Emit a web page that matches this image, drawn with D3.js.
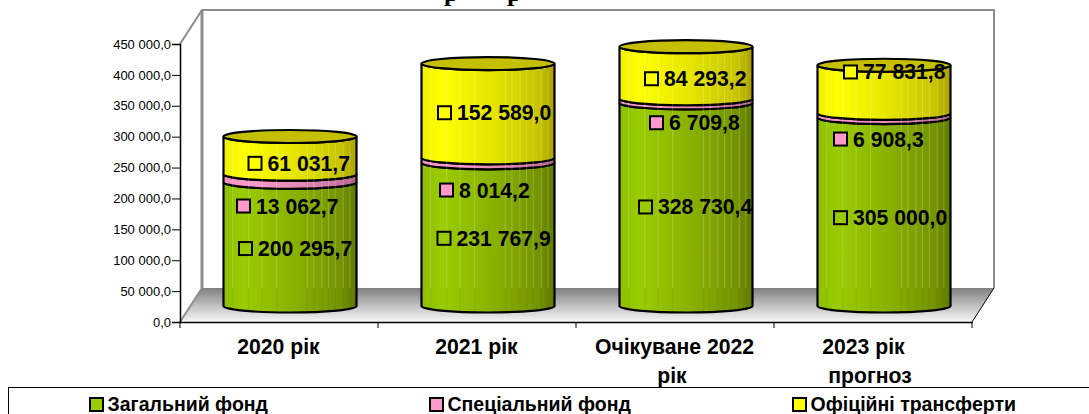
<!DOCTYPE html>
<html>
<head>
<meta charset="utf-8">
<script src="https://cdn.jsdelivr.net/npm/d3@7"></script>
<style>
    html, body { margin: 0; padding: 0; background: #fff; overflow: hidden; }
    svg { display: block; }
    text { font-family: "Liberation Sans", Arial, sans-serif; fill: #000; }
</style>
</head>
<body>
<script>
'use strict';

const categories = ['2020 рік', '2021 рік', 'Очікуване 2022 рік', '2023 рік прогноз'];
const categoryLines = [['2020 рік'], ['2021 рік'], ['Очікуване 2022', 'рік'], ['2023 рік', 'прогноз']];
const seriesNames = ['Загальний фонд', 'Спеціальний фонд', 'Офіційні трансферти'];
const generalFund = [200295.7, 231767.9, 328730.4, 305000.0];
const specialFund = [13062.7, 8014.2, 6709.8, 6908.3];
const transfers = [61031.7, 152589.0, 84293.2, 77831.8];
const yTicks = [0, 50000, 100000, 150000, 200000, 250000, 300000, 350000, 400000, 450000];
// the title is cut off by the top edge, only these two letters can be made out
const titleLetters = ['р', 'р'];

const width = 1089, height = 414;
const seriesValues = [generalFund, specialFund, transfers];
const colours = [
    {key: 'green', swatch: '#99cc00', stops: ['#8fbf00', '#99cc00', '#88b000', '#749400', '#5f7a00']},
    {key: 'pink', swatch: '#ff99cc', stops: ['#f08fc0', '#ff99cc', '#e58bb8', '#c8749f', '#a86288']},
    {key: 'yellow', swatch: '#ffff00', stops: ['#f0f000', '#ffff00', '#e4e400', '#c8c400', '#ab9f00']}
];
// hand moved labels, offset from the middle of their segment
const labelDx = [[-44.5, -44, -40.5, -43.5], [-46.5, -41.5, -29.5, -43.5], [-35, -43.5, -34.5, -33.5]];
const labelDy = [[4.4, 3.9, 2.5, 5.9], [27.8, 29.7, 21.9, 23.6], [8, 2, 6, -17.3]];
const categoryDx = [[-0.5], [-0.5], [-0.5, -3], [-9.5, -3]];
const stripes = [0.07, 0.19, 0.29, 0.40, 0.63, 0.68, 0.74, 0.79, 0.84, 0.90, 0.95];

const svg = d3.select('body').append('svg')
    .attr('width', width)
    .attr('height', height);

const defs = svg.append('defs');

// depth of the 3d box, front edge to back wall
const depth = {x: 22, y: -34};
const x = d3.scaleBand().domain(categories).range([180, 972]);
const y = d3.scaleLinear().domain([0, 450000]).range([322, 44]);
const numberFormat = v => d3.format(',.1f')(v).replace(/,/g, ' ').replace('.', ',');

const floorGradient = defs.append('linearGradient')
    .attr('id', 'floor')
    .attr('x1', 0).attr('y1', 0).attr('x2', 0).attr('y2', 1);
floorGradient.append('stop').attr('offset', 0).attr('stop-color', '#7f7f7f');
floorGradient.append('stop').attr('offset', 0.55).attr('stop-color', '#c4c4c4');
floorGradient.append('stop').attr('offset', 1).attr('stop-color', '#f6f6f6');

colours.forEach(c => {
    const gradient = defs.append('linearGradient')
        .attr('id', 'side-' + c.key)
        .attr('x1', 0).attr('y1', 0).attr('x2', 1).attr('y2', 0);
    [0, 0.15, 0.55, 0.88, 1].forEach((offset, i) => {
        gradient.append('stop').attr('offset', offset).attr('stop-color', c.stops[i]);
    });
});

const x0 = x.range()[0], x1 = x.range()[1];
const yBottom = y(0), yTop = y(450000);
const backFloor = yBottom + depth.y;

// title
titleLetters.forEach((letter, i) => {
    svg.append('text')
        .attr('x', [444, 507][i])
        .attr('y', 1)
        .style('font-family', '"Liberation Serif"')
        .style('font-size', '26px')
        .style('font-weight', 'bold')
        .text(letter);
});

// back wall
svg.append('path')
    .attr('d', d3.line()([[x0, yTop], [x0 + depth.x, yTop + depth.y], [x1 + depth.x, yTop + depth.y], [x1 + depth.x, backFloor]]))
    .attr('fill', 'none')
    .attr('stroke', '#8c8c8c')
    .attr('stroke-width', 2);
svg.append('path')
    .attr('d', d3.line()([[x0 + depth.x, yTop + depth.y], [x0 + depth.x, backFloor]]))
    .attr('stroke', '#8c8c8c')
    .attr('stroke-width', 3);

// floor
svg.append('path')
    .attr('d', d3.line()([[x0, yBottom], [x0 + depth.x, backFloor], [x1 + depth.x, backFloor], [x1, yBottom]]) + 'Z')
    .attr('fill', 'url(#floor)');
svg.append('path')
    .attr('d', d3.line()([[x0, yBottom], [x0 + depth.x, backFloor]]))
    .attr('stroke', '#8c8c8c')
    .attr('stroke-width', 2);
svg.append('path')
    .attr('d', d3.line()([[x1, yBottom], [x1 + depth.x, backFloor]]))
    .attr('stroke', '#000')
    .attr('fill', 'none');

// axes
const yAxis = d3.axisLeft(y)
    .tickValues(yTicks)
    .tickSize(8)
    .tickPadding(1)
    .tickFormat(numberFormat);
const yG = svg.append('g')
    .attr('transform', `translate(${x0},0)`)
    .call(yAxis);
yG.selectAll('text').style('font-size', '13px').style('font-family', '"Liberation Sans"');

const xG = svg.append('g')
    .attr('transform', `translate(0,${yBottom})`)
    .call(d3.axisBottom(x).tickSize(0).tickFormat(''));
xG.selectAll('.tick').remove();
xG.selectAll('.xtick')
    .data(categories.map(d => x(d)).concat([x1]))
    .enter().append('line')
    .attr('x1', d => d)
    .attr('x2', d => d)
    .attr('y1', 0).attr('y2', 6)
    .attr('stroke', '#000');

yG.select('.domain').attr('stroke-width', 1.5);
xG.select('.domain').attr('stroke-width', 1.5);

// cylinders sit half way into the box
const rx = 66.5, ry = 6.5;
const cx = d => x(d) + x.bandwidth() / 2 + depth.x / 2;
const cy = v => y(v) + depth.y / 2 + 1;

categories.forEach((cat, i) => {
    let running = 0;
    const c = cx(cat);
    const g = svg.append('g').attr('class', 'cylinder');
    seriesValues.forEach((series, s) => {
        const low = cy(running);
        running += series[i];
        const high = cy(running);
        g.append('path')
            .attr('d', `M${c - rx},${high}V${low}A${rx},${ry} 0 0 0 ${c + rx},${low}V${high}A${rx},${ry} 0 0 1 ${c - rx},${high}Z`)
            .attr('fill', `url(#side-${colours[s].key})`)
            .attr('stroke', '#000')
            .attr('stroke-width', 2.2);
    });
    // light streaks down the side, fainter where they pass in front of the floor
    const topEdge = cy(running) + ry + 1;
    g.selectAll('.stripe')
        .data(stripes)
        .enter().append('line')
        .attr('x1', d => c - rx + d * 2 * rx)
        .attr('x2', d => c - rx + d * 2 * rx)
        .attr('y1', topEdge)
        .attr('y2', backFloor)
        .attr('stroke', '#fff')
        .attr('stroke-opacity', 0.22);
    g.selectAll('.stripe-low')
        .data(stripes)
        .enter().append('line')
        .attr('x1', d => c - rx + d * 2 * rx)
        .attr('x2', d => c - rx + d * 2 * rx)
        .attr('y1', backFloor)
        .attr('y2', cy(0) + ry - 1)
        .attr('stroke', '#000')
        .attr('stroke-opacity', 0.06);
    g.append('ellipse')
        .attr('cx', c)
        .attr('cy', cy(running))
        .attr('rx', rx)
        .attr('ry', ry)
        .attr('fill', '#c4c000')
        .attr('stroke', '#000')
        .attr('stroke-width', 2.2);
});

// value labels with key markers
const markerSize = 13;
categories.forEach((cat, i) => {
    let running = 0;
    seriesValues.forEach((series, s) => {
        const v = series[i];
        const mx = cx(cat) + labelDx[s][i];
        const my = cy(running + v / 2) + labelDy[s][i];
        running += v;
        svg.append('rect')
            .attr('x', mx - markerSize / 2)
            .attr('y', my - markerSize / 2)
            .attr('width', markerSize)
            .attr('height', markerSize)
            .attr('fill', colours[s].swatch)
            .attr('stroke', '#000')
            .attr('stroke-width', 2);
        svg.append('text')
            .attr('x', mx + 12.5)
            .attr('y', my + 7.5)
            .style('font-size', '21.2px')
            .style('font-weight', 'bold')
            .text(numberFormat(v));
    });
});

// category labels
categoryLines.forEach((lines, i) => {
    lines.forEach((line, j) => {
        svg.append('text')
            .attr('x', x(categories[i]) + x.bandwidth() / 2 + categoryDx[i][j])
            .attr('y', 354 + j * 29)
            .attr('text-anchor', 'middle')
            .style('font-size', '21.2px')
            .style('font-weight', 'bold')
            .text(line);
    });
});

// legend
svg.append('rect')
    .attr('x', 8.5).attr('y', 387.5)
    .attr('width', width).attr('height', 40)
    .attr('fill', '#fff')
    .attr('stroke', '#000');
const legendX = [90, 430, 793];
seriesNames.forEach((name, s) => {
    svg.append('rect')
        .attr('x', legendX[s]).attr('y', 398)
        .attr('width', markerSize).attr('height', markerSize)
        .attr('fill', colours[s].swatch)
        .attr('stroke', '#000')
        .attr('stroke-width', 2);
    svg.append('text')
        .attr('x', legendX[s] + 17.5).attr('y', 411)
        .style('font-size', '19.5px')
        .style('font-weight', 'bold')
        .text(name);
});
</script>
</body>
</html>
